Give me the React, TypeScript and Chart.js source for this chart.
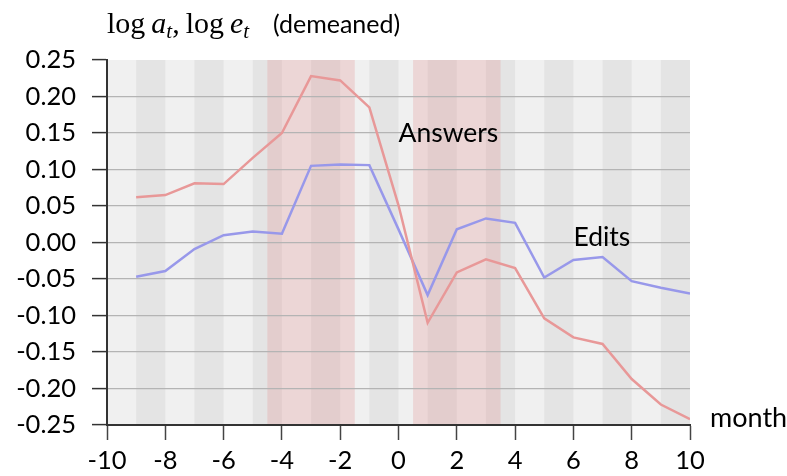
import React, { useEffect, useRef } from "react";
import { Chart, registerables } from "chart.js";

Chart.register(...registerables);

const months = [-9, -8, -7, -6, -5, -4, -3, -2, -1, 0, 1, 2, 3, 4, 5, 6, 7, 8, 9, 10];
const answers = [0.062, 0.065, 0.081, 0.080, 0.116, 0.150, 0.228, 0.222, 0.185, 0.051, -0.110, -0.041, -0.023, -0.035, -0.104, -0.130, -0.139, -0.187, -0.222, -0.242];
const edits = [-0.047, -0.039, -0.009, 0.010, 0.015, 0.012, 0.105, 0.107, 0.106, 0.018, -0.072, 0.018, 0.033, 0.027, -0.048, -0.024, -0.020, -0.053, -0.062, -0.070];
const darkStripes = [-9, -7, -5, -3, -1, 1, 3, 5, 7, 9];
const bands = [[-4.5, -1.5], [0.5, 3.5]];
const labels = [
  { text: "Answers", x: 0, y: 0.15 },
  { text: "Edits", x: 6, y: 0.0075 },
];

const SANS = "Lato, 'Open Sans', sans-serif";
const SERIF = "'Liberation Serif', 'DejaVu Serif', serif";

const decorPlugin = {
  id: "decor",
  beforeDraw(chart: any) {
    const { ctx, chartArea, scales } = chart;
    const xs = scales.x;
    const { top, bottom } = chartArea;
    ctx.save();
    ctx.fillStyle = "#f0f0f0";
    ctx.fillRect(chartArea.left, top, chartArea.right - chartArea.left, bottom - top);
    ctx.fillStyle = "#e4e4e4";
    for (const s of darkStripes) {
      const a = xs.getPixelForValue(s);
      const b = xs.getPixelForValue(s + 1);
      ctx.fillRect(a, top, b - a, bottom - top);
    }
    ctx.fillStyle = "rgba(225,144,144,0.27)";
    for (const [s, e] of bands) {
      const a = xs.getPixelForValue(s);
      const b = xs.getPixelForValue(e);
      ctx.fillRect(a, top, b - a, bottom - top);
    }
    ctx.restore();
  },
  afterDraw(chart: any) {
    const { ctx, chartArea, scales } = chart;
    ctx.save();
    ctx.fillStyle = "#000";
    ctx.textBaseline = "middle";
    ctx.textAlign = "left";
    ctx.font = `26.5px ${SANS}`;
    for (const l of labels) {
      ctx.fillText(l.text, scales.x.getPixelForValue(l.x), scales.y.getPixelForValue(l.y));
    }
    ctx.font = `27px ${SANS}`;
    ctx.fillText("month", chartArea.right + 20, chartArea.bottom - 7);
    // y title
    ctx.textBaseline = "alphabetic";
    let x = chartArea.left;
    const base = 33;
    const parts: [string, string, number][] = [
      ["log", `30px ${SERIF}`, 0],
      ["\u2009", `30px ${SERIF}`, 0],
      ["a", `italic 30px ${SERIF}`, 0],
      ["t", `italic 21px ${SERIF}`, 5],
      [",\u2009log", `30px ${SERIF}`, 0],
      ["\u2009", `30px ${SERIF}`, 0],
      ["e", `italic 30px ${SERIF}`, 0],
      ["t", `italic 21px ${SERIF}`, 5],
    ];
    for (const [t, f, dy] of parts) {
      ctx.font = f;
      ctx.fillText(t, x, base + dy);
      x += ctx.measureText(t).width;
    }
    ctx.font = `25px ${SANS}`;
    ctx.fillText("(demeaned)", chartArea.left + 166, base);
    ctx.restore();
  },
};

export default function App() {
  const ref = useRef<HTMLCanvasElement>(null);
  useEffect(() => {
    if (!ref.current) return;
    const chart = new Chart(ref.current, {
      type: "line",
      data: {
        datasets: [
          {
            label: "Answers",
            data: months.map((m, i) => ({ x: m, y: answers[i] })),
            borderColor: "#e89898",
            borderWidth: 2.5,
            pointRadius: 0,
            tension: 0,
          },
          {
            label: "Edits",
            data: months.map((m, i) => ({ x: m, y: edits[i] })),
            borderColor: "#9898ea",
            borderWidth: 2.5,
            pointRadius: 0,
            tension: 0,
          },
        ],
      },
      options: {
        animation: false,
        responsive: false,
        devicePixelRatio: 1,
        layout: { padding: { top: 60, right: 97, left: 0, bottom: 0 } },
        plugins: { legend: { display: false }, tooltip: { enabled: false } },
        scales: {
          x: {
            type: "linear",
            min: -10,
            max: 10,
            afterFit: (s: any) => { s.height = 51; },
            ticks: { stepSize: 2, color: "#000", font: { family: SANS, size: 25.5 }, padding: 5, maxRotation: 0, autoSkip: false },
            grid: { drawOnChartArea: false, tickLength: 15, tickColor: "#444", tickWidth: 1.5 },
            border: { color: "#333", width: 2 },
          },
          y: {
            min: -0.25,
            max: 0.25,
            afterFit: (s: any) => { s.width = 107; },
            ticks: {
              stepSize: 0.05,
              color: "#000",
              font: { family: SANS, size: 25.5 },
              padding: 16,
              callback: (v: any) => Number(v).toFixed(2),
            },
            grid: {
              color: (c: any) => (c.tick && Math.abs(c.tick.value - 0.25) < 1e-6 ? "rgba(0,0,0,0)" : "#b4b4b4"),
              lineWidth: 1.2,
              tickLength: 15,
              tickColor: "#333",
              tickWidth: 1.5,
            },
            border: { color: "#333", width: 2 },
          },
        },
      },
      plugins: [decorPlugin],
    } as any);
    return () => chart.destroy();
  }, []);
  return (
    <div style={{ position: "fixed", left: 0, top: 0, width: 787, height: 476, background: "#fff" }}>
      <canvas ref={ref} width={787} height={476} style={{ width: 787, height: 476, display: "block" }} />
    </div>
  );
}
